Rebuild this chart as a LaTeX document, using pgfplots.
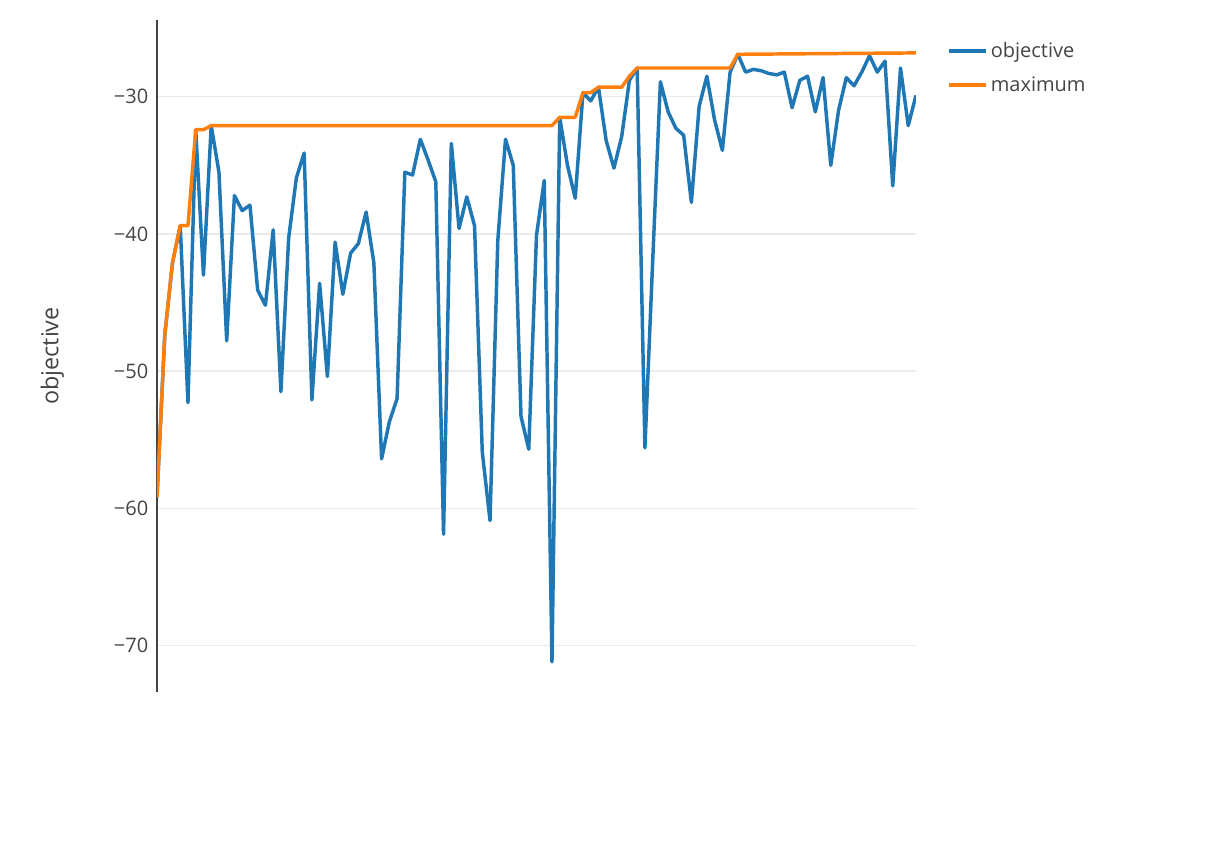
\documentclass[border=0pt]{standalone}
\usepackage{pgfplots}
\pgfplotsset{compat=1.18}
\usepackage{fontspec}
\setmainfont{Open Sans}
\definecolor{tc}{HTML}{444444}
\definecolor{cblue}{HTML}{1F77B4}
\definecolor{corange}{HTML}{FF7F0E}
\definecolor{gridc}{HTML}{EBEBEB}
\begin{document}
\begin{tikzpicture}[x=1pt,y=1pt]
\useasboundingbox (-117.75,-121.5) rectangle (787.5,519);
\begin{axis}[at={(0,0)},anchor=south west,
  scale only axis, width=569.25pt, height=504pt,
  xmin=0, xmax=98, ymin=-73.4, ymax=-24.4,
  xtick={0,20,40,60,80}, ytick={-70,-60,-50,-40,-30},
  xticklabels={0,20,40,60,80},
  yticklabels={−70,−60,−50,−40,−30},
  axis x line=none, axis y line*=left,
  y axis line style={color=tc, line width=1pt,-},
  grid=major, major grid style={gridc, line width=1pt},
  tick style={draw=none},
  every tick label/.append style={font=\fontsize{15}{18}\selectfont, text=tc},
  xticklabel style={yshift=-6pt},
  yticklabel style={xshift=-3pt},
  xlabel={samples}, ylabel={objective},
  label style={font=\fontsize{17.5}{20}\selectfont, text=tc},
  xlabel style={at={(axis description cs:0.5,-0.18)},anchor=center},
  ylabel style={at={(axis description cs:-0.138,0.5)},anchor=center,rotate=0},
  legend style={at={(1.035,0.975)},anchor=north west,draw=none,fill=none,
    font=\fontsize{15}{18}\selectfont, text=tc, row sep=9pt},
  legend cell align=left,
  legend image code/.code={\draw[#1,line width=3pt] (0pt,0pt) -- (28pt,0pt);},
]
\addplot[cblue, line width=2.6pt, line join=round] coordinates {
(0,-59.2)(1,-47.4)(2,-42.1)(3,-39.4)(4,-52.3)(5,-32.4)(6,-43.0)(7,-32.1)(8,-35.5)(9,-47.8)
(10,-37.2)(11,-38.3)(12,-37.9)(13,-44.1)(14,-45.2)(15,-39.7)(16,-51.5)(17,-40.3)(18,-35.9)(19,-34.1)
(20,-52.1)(21,-43.6)(22,-50.4)(23,-40.6)(24,-44.4)(25,-41.4)(26,-40.7)(27,-38.4)(28,-42.1)(29,-56.4)
(30,-53.7)(31,-52.0)(32,-35.5)(33,-35.7)(34,-33.1)(35,-34.6)(36,-36.2)(37,-61.9)(38,-33.4)(39,-39.6)
(40,-37.3)(41,-39.4)(42,-55.9)(43,-60.9)(44,-40.5)(45,-33.1)(46,-35.0)(47,-53.3)(48,-55.7)(49,-40.1)
(50,-36.1)(51,-71.2)(52,-31.5)(53,-35.0)(54,-37.4)(55,-29.7)(56,-30.3)(57,-29.3)(58,-33.2)(59,-35.2)
(60,-32.9)(61,-28.8)(62,-27.9)(63,-55.6)(64,-42.0)(65,-28.9)(66,-31.1)(67,-32.3)(68,-32.8)(69,-37.7)
(70,-30.7)(71,-28.5)(72,-31.7)(73,-33.9)(74,-28.2)(75,-26.9)(76,-28.2)(77,-28.0)(78,-28.1)(79,-28.3)
(80,-28.4)(81,-28.2)(82,-30.8)(83,-28.8)(84,-28.5)(85,-31.1)(86,-28.6)(87,-35.0)(88,-31.0)(89,-28.6)
(90,-29.2)(91,-28.2)(92,-27.0)(93,-28.2)(94,-27.4)(95,-36.5)(96,-27.9)(97,-32.1)(98,-29.9)};
\addlegendentry{objective}
\addplot[corange, line width=2.6pt, line join=round] coordinates {
(0,-59.2)(1,-47.4)(2,-42.1)(3,-39.4)(4,-39.4)(5,-32.4)(6,-32.4)(7,-32.1)(51,-32.1)(52,-31.5)
(54,-31.5)(55,-29.7)(56,-29.7)(57,-29.3)(60,-29.3)(61,-28.5)(62,-27.9)(74,-27.9)(75,-26.9)(98,-26.8)};
\addlegendentry{maximum}
\end{axis}
\end{tikzpicture}
\end{document}
